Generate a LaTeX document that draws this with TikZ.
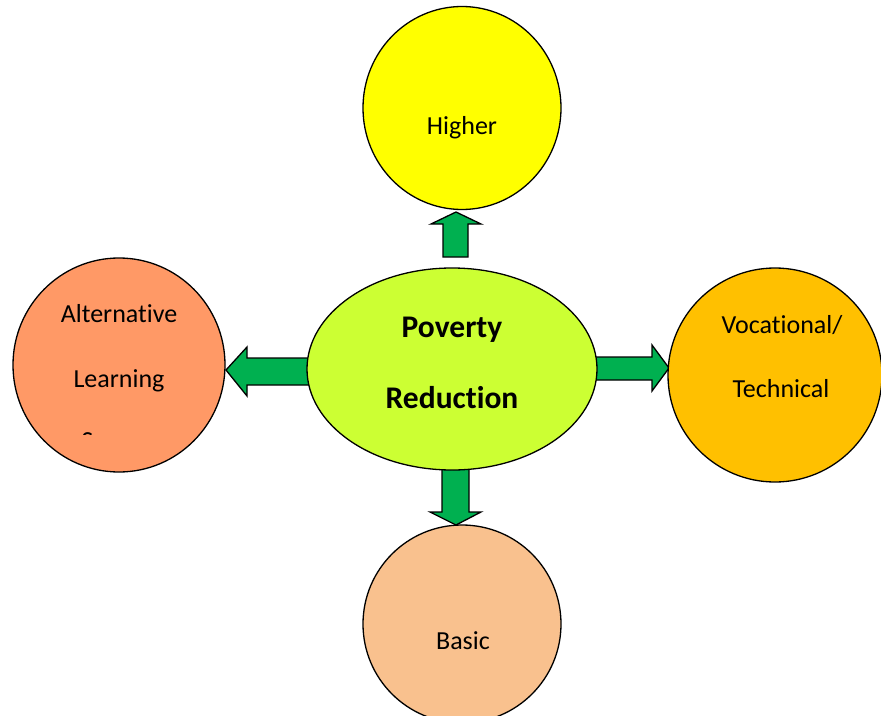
\documentclass[tikz,border=0pt]{standalone}
\usepackage{fontspec}
\setmainfont{Carlito}[Ligatures={NoCommon}]
\usetikzlibrary{shapes.geometric}
\definecolor{cyel}{HTML}{FFFF00}
\definecolor{clime}{HTML}{CCFF33}
\definecolor{csalmon}{HTML}{FF9966}
\definecolor{corange}{HTML}{FFC000}
\definecolor{cpeach}{HTML}{F9C18E}
\definecolor{cgreen}{HTML}{00B050}
\pgfdeclarelayer{bg}
\pgfsetlayers{bg,main}
\tikzset{
  blob/.style={ellipse, draw=black, line width=1.3pt, inner sep=0pt},
  lbl/.style={anchor=base, inner sep=0pt, font=\fontsize{26}{31}\selectfont},
  blbl/.style={anchor=base, inner sep=0pt, font=\fontsize{31.5}{37}\selectfont\bfseries},
  blockarrow/.style={fill=cgreen, draw=black, line width=1.3pt, line join=miter}
}
\begin{document}
\begin{tikzpicture}[x=1pt,y=-1pt]
\useasboundingbox (0,0) rectangle (881,715);
\clip (0,0) rectangle (881,715);
% shapes
\node[blob, fill=cyel, minimum width=198pt, minimum height=203pt] (hi) at (462,108) {};
\node[blob, fill=clime, minimum width=290pt, minimum height=202pt] (pr) at (452,369) {};
\node[blob, fill=csalmon, minimum width=212pt, minimum height=214pt] (alt) at (119,365) {};
\node[blob, fill=corange, minimum width=214pt, minimum height=214pt] (voc) at (775,375) {};
\node[blob, fill=cpeach, minimum width=198pt, minimum height=198pt] (bas) at (462,624) {};
% labels
\node[lbl] (hit) at (462,134) {Higher};
\node[blbl] (prt1) at (452,337) {Poverty};
\node[blbl] (prt2) at (452,408) {Reduction};
\node[lbl] (alt1) at (119,322) {Alternative};
\node[lbl] (alt2) at (119,387) {Learning};
\begin{scope}
\clip (76,420) rectangle (93,434);
\node[lbl] (alt3) at (119,449) {System};
\end{scope}
\node[lbl] (voc1) at (782,333) {Vocational/};
\node[lbl] (voc2) at (781,397) {Technical};
\node[lbl] (bast) at (463,649) {Basic};
% block arrows
\begin{pgfonlayer}{bg}
\draw[blockarrow] (443,257) -- (443,224) -- (431,224) -- (456,212) -- (481,224) -- (468,224) -- (468,257) -- cycle;
\draw[blockarrow] (580,357) -- (652,357) -- (652,345) -- (669,368) -- (652,391) -- (652,380) -- (580,380) -- cycle;
\draw[blockarrow] (442,460) -- (469,460) -- (469,512) -- (481,512) -- (456,525) -- (430,512) -- (442,512) -- cycle;
\draw[blockarrow] (325,358) -- (247,358) -- (247,347) -- (226,370) -- (247,396) -- (247,385) -- (325,385) -- cycle;
\end{pgfonlayer}
\end{tikzpicture}
\end{document}
